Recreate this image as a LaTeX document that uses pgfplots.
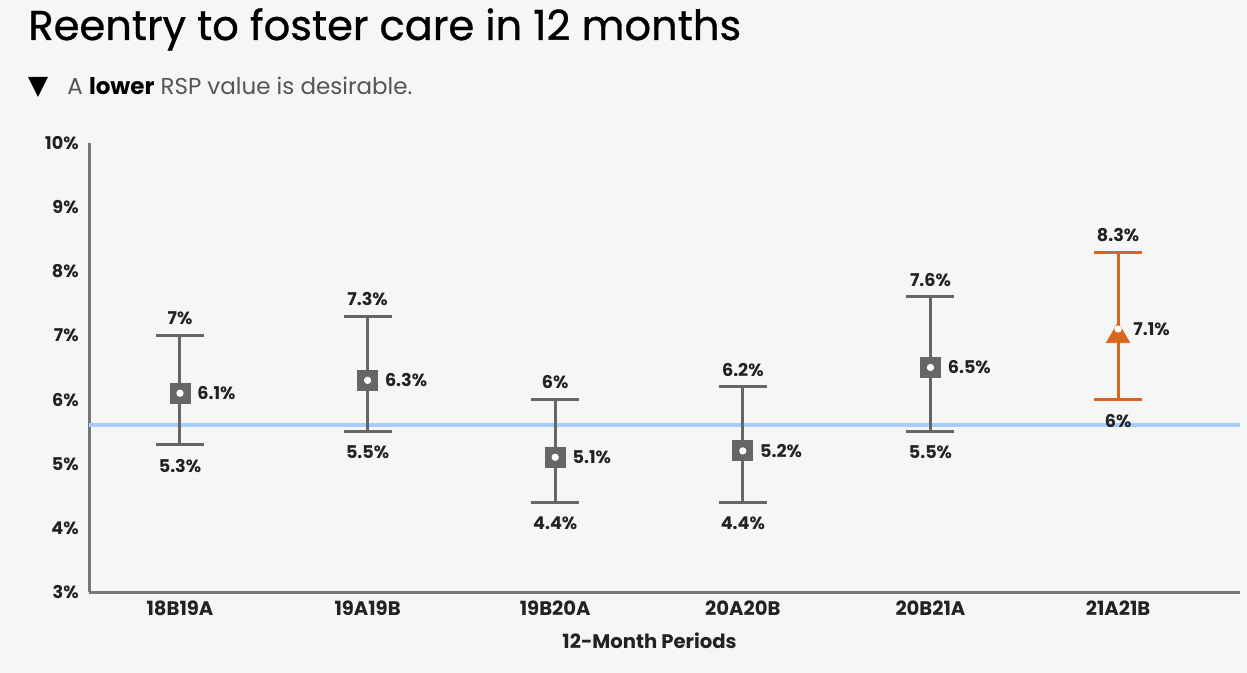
\documentclass[border=0pt]{standalone}
\usepackage{fontspec}
\setmainfont{Poppins}
\newfontfamily\titlefont{Poppins}[FakeBold=0.8]
\usepackage{pgfplots}
\usepackage{pgfplotstable}
\pgfplotsset{compat=1.18}

\definecolor{bg}{HTML}{F5F6F6}
\definecolor{bargray}{HTML}{666666}
\definecolor{axgray}{HTML}{777777}
\definecolor{rsporange}{HTML}{D9661F}
\definecolor{natblue}{HTML}{A9CBF7}
\definecolor{txt}{HTML}{222222}
\definecolor{subtxt}{HTML}{555555}

% x: period index, y: RSP, lo/hi: interval bounds
\pgfplotstableread{
x y lo hi
0 6.1 5.3 7.0
1 6.3 5.5 7.3
2 5.1 4.4 6.0
3 5.2 4.4 6.2
4 6.5 5.5 7.6
}\graydata
\pgfplotstableread{
x y lo hi
5 7.1 6.0 8.3
}\orangedata

\newcommand{\lbl}{\fontsize{8.8}{10}\selectfont\bfseries}

\begin{document}
\begin{tikzpicture}
\path[use as bounding box, fill=bg] (0,0) rectangle (623.5pt,-336.5pt);

\node[anchor=base west, inner sep=0pt, font=\titlefont\fontsize{20.8}{24}\selectfont, text=black] at (14pt,-20pt) {Reentry to foster care in 12 months};
\fill[black] (14pt,-38.5pt) -- (24pt,-38.5pt) -- (19pt,-48.5pt) -- cycle;
\node[anchor=base west, inner sep=0pt, font=\fontsize{11.5}{13}\selectfont, text=subtxt] at (33.5pt,-47.5pt) {A \textcolor{black}{\bfseries lower} RSP value is desirable.};

\begin{axis}[
    at={(44.5pt,-296pt)}, anchor=south west,
    scale only axis,
    width=575.5pt, height=224.5pt,
    xmin=-0.485, xmax=5.65,
    ymin=3, ymax=10,
    axis lines=left,
    axis line style={-, draw=axgray, line width=1.5pt},
    /pgf/number format/assume math mode=true,
    major tick length=0pt,
    xtick={0,1,2,3,4,5},
    xticklabels={18B19A,19A19B,19B20A,20A20B,20B21A,21A21B},
    ytick={3,4,5,6,7,8,9,10},
    yticklabel={\pgfmathprintnumber{\tick}\%},
    xticklabel style={font=\fontsize{9.8}{11}\selectfont\bfseries, text=txt, anchor=north, inner sep=0pt, yshift=-4pt},
    yticklabel style={font=\lbl, text=txt, anchor=east, inner sep=0pt, xshift=-5pt},
    xlabel={12-Month Periods},
    xlabel style={at={(axis description cs:0.487,0)}, anchor=center, yshift=-24.5pt, font=\fontsize{9.8}{11}\selectfont\bfseries, text=txt},
    clip=false,
]
% national performance line
\addplot[natblue, line width=2pt] coordinates {(-0.485,5.6) (5.65,5.6)};

% gray intervals
\addplot[bargray, line width=1.5pt, mark=none, draw=none,
    error bars/.cd, y dir=both, y explicit,
    error bar style={bargray, line width=1.5pt},
    error mark=|, error mark options={mark size=12pt, line width=1.5pt, bargray}]
    table[x=x, y=y, y error plus expr=\thisrow{hi}-\thisrow{y}, y error minus expr=\thisrow{y}-\thisrow{lo}] {\graydata};
\addplot[only marks, mark=square*, mark size=5pt, mark options={fill=bargray, draw=bargray}] table[x=x, y=y] {\graydata};

% orange interval
\addplot[rsporange, line width=1.5pt, mark=none, draw=none,
    error bars/.cd, y dir=both, y explicit,
    error bar style={rsporange, line width=1.5pt},
    error mark=|, error mark options={mark size=12pt, line width=1.5pt, rsporange}]
    table[x=x, y=y, y error plus expr=\thisrow{hi}-\thisrow{y}, y error minus expr=\thisrow{y}-\thisrow{lo}] {\orangedata};
\addplot[only marks, mark=triangle*, mark size=6.7pt, mark options={fill=rsporange, draw=rsporange, yshift=-3.5pt}] table[x=x, y=y] {\orangedata};

% white centre dots
\addplot[only marks, mark=*, mark size=1.6pt, mark options={fill=white, draw=white}] table[x=x, y=y] {\graydata};
\addplot[only marks, mark=*, mark size=1.6pt, mark options={fill=white, draw=white}] table[x=x, y=y] {\orangedata};

% value labels
\pgfplotsset{lblstyle/.style={only marks, mark=none, point meta=explicit,
    nodes near coords={\pgfmathprintnumber{\pgfplotspointmeta}\%},
    every node near coord/.append style={font=\lbl, text=txt, inner sep=0pt}}}
\addplot[lblstyle, every node near coord/.append style={anchor=west, xshift=8.5pt}] table[x=x, y=y, meta=y] {\graydata};
\addplot[lblstyle, every node near coord/.append style={anchor=south, yshift=5pt}] table[x=x, y=hi, meta=hi] {\graydata};
\addplot[lblstyle, every node near coord/.append style={anchor=north, yshift=-7pt}] table[x=x, y=lo, meta=lo] {\graydata};
\addplot[lblstyle, every node near coord/.append style={anchor=west, xshift=7.5pt}] table[x=x, y=y, meta=y] {\orangedata};
\addplot[lblstyle, every node near coord/.append style={anchor=south, yshift=5pt}] table[x=x, y=hi, meta=hi] {\orangedata};
\addplot[lblstyle, every node near coord/.append style={anchor=north, yshift=-7pt}] table[x=x, y=lo, meta=lo] {\orangedata};
\end{axis}
\end{tikzpicture}
\end{document}
